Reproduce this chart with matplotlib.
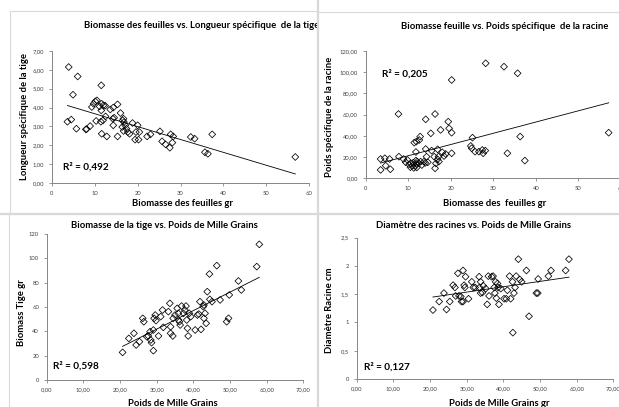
import numpy as np
import matplotlib
matplotlib.use('Agg')
import matplotlib.pyplot as plt
from matplotlib.ticker import FuncFormatter, MultipleLocator
from matplotlib.lines import Line2D

plt.rcParams['font.family'] = ['Lato', 'DejaVu Sans']

# --- données ---
# 1. Biomasse des feuilles vs. longueur spécifique de la tige
feuilles_a = [3.9, 6.0, 4.9, 11.5, 3.6, 4.5, 5.7, 7.9, 8.1, 8.9,
              9.3, 9.7, 10.1, 10.5, 10.3, 11.1, 11.5, 11.6, 12.0, 12.4,
              11.4, 11.9, 11.6, 12.5, 12.8, 13.6, 14.3, 15.3, 14.2, 14.5,
              14.3, 15.3, 16.0, 16.5, 16.7, 16.8, 16.4, 16.7, 17.1, 17.4,
              17.7, 18.1, 18.8, 19.6, 20.0, 19.4, 20.2, 20.4, 22.2, 23.0,
              25.2, 25.7, 26.5, 27.5, 27.7, 28.3, 28.1, 32.4, 33.3, 35.7,
              36.4, 37.4, 56.8]
longueur_tige = [6.15, 5.65, 4.68, 5.18, 3.25, 3.36, 2.88, 2.84, 2.86, 3.02,
                 4.03, 4.20, 4.33, 4.38, 3.29, 4.06, 3.85, 4.20, 4.12, 4.10,
                 3.25, 3.32, 2.61, 3.53, 2.47, 3.90, 4.00, 4.17, 3.41, 3.46,
                 3.06, 2.47, 3.71, 3.32, 3.41, 3.23, 2.97, 2.76, 3.06, 2.88,
                 2.70, 2.61, 3.18, 2.70, 3.06, 2.30, 2.30, 2.70, 2.47, 2.58,
                 2.74, 2.21, 2.05, 1.87, 2.58, 2.47, 2.14, 2.44, 2.35, 1.63,
                 1.55, 2.58, 1.38]

# 2. Biomasse feuille vs. poids spécifique de la racine
feuilles_b = [3.5, 3.5, 4.5, 4.7, 5.6, 5.8, 7.7, 7.8, 8.9, 9.4,
              9.8, 10.2, 10.6, 11.0, 11.2, 11.6, 11.8, 11.9, 12.1, 11.4,
              11.8, 11.9, 12.6, 12.8, 12.4, 12.9, 13.7, 14.1, 14.1, 14.3,
              14.6, 15.3, 15.5, 16.3, 16.1, 16.3, 16.5, 16.9, 17.1, 16.9,
              17.2, 17.6, 18.0, 18.4, 18.8, 19.4, 19.6, 20.2, 20.2, 20.2,
              25.1, 24.7, 24.9, 25.7, 26.6, 27.4, 27.6, 28.1, 28.2, 32.5,
              33.3, 35.7, 36.3, 37.4, 57.1, 10.5, 11.3, 12.0, 13.2, 14.0]
poids_racine = [18.2, 7.9, 18.9, 11.9, 18.2, 8.5, 60.6, 20.4, 18.2, 15.1,
                17.3, 13.2, 14.1, 11.9, 14.8, 11.6, 16.7, 13.5, 15.7, 33.6,
                24.8, 34.6, 36.1, 39.3, 14.1, 15.7, 15.7, 55.6, 27.6, 20.4,
                15.1, 42.4, 26.1, 60.6, 20.4, 9.4, 14.1, 17.9, 20.4, 27.3,
                15.7, 45.6, 24.5, 21.0, 22.9, 53.4, 47.1, 92.7, 43.0, 23.6,
                38.3, 30.5, 28.3, 25.1, 25.1, 26.7, 23.6, 26.1, 108.4, 105.2,
                23.6, 99.0, 39.3, 16.7, 43.0, 10.5, 9.8, 10.2, 12.5, 14.5]

# 3. Biomasse de la tige vs. poids de mille grains
pmg_a = [20.7, 22.4, 23.8, 24.4, 25.3, 26.2, 26.5, 27.3, 27.7, 28.2,
         28.4, 28.6, 29.1, 29.3, 29.6, 29.8, 29.1, 30.5, 31.1, 31.6,
         31.8, 33.2, 33.6, 33.8, 33.8, 34.4, 34.5, 35.0, 35.6, 35.9,
         36.0, 36.2, 36.4, 36.8, 37.3, 37.7, 38.0, 38.2, 38.4, 38.6,
         38.9, 39.3, 40.5, 41.1, 41.5, 41.8, 42.1, 42.7, 42.9, 42.9,
         43.2, 43.5, 43.8, 44.4, 44.5, 45.1, 46.4, 47.3, 49.1, 49.6,
         49.8, 52.3, 53.1, 57.3, 58.0]
biomasse_tige = [22.7, 34.2, 38.4, 28.8, 31.5, 50.7, 47.9, 35.6, 36.2, 39.7,
                 32.9, 30.7, 41.1, 50.7, 53.4, 48.8, 24.1, 36.2, 52.1, 57.5,
                 43.3, 56.2, 63.0, 43.8, 38.4, 36.2, 50.7, 53.4, 58.9, 54.8,
                 49.3, 47.9, 45.2, 60.8, 54.8, 57.5, 60.8, 49.3, 42.5, 36.2,
                 54.8, 52.1, 41.1, 53.4, 54.2, 64.4, 41.6, 60.3, 50.7, 61.6,
                 54.8, 46.6, 72.6, 87.1, 66.3, 64.4, 94.0, 65.8, 47.9, 50.7,
                 69.9, 81.4, 74.0, 93.2, 111.5]

# 4. Diamètre des racines vs. poids de mille grains
pmg_b = [20.8, 22.5, 23.8, 24.5, 25.4, 26.3, 26.8, 27.0, 27.6, 27.9,
         28.4, 28.6, 29.0, 29.0, 29.3, 29.5, 29.7, 30.5, 31.4, 31.8,
         32.3, 33.4, 33.5, 33.8, 33.8, 34.3, 34.5, 35.2, 35.6, 35.9,
         36.1, 36.8, 37.2, 37.5, 37.7, 37.9, 38.1, 38.4, 38.6, 38.8,
         39.3, 40.2, 40.8, 41.1, 41.7, 42.0, 42.5, 42.6, 42.9, 43.2,
         43.5, 44.1, 44.5, 45.0, 46.3, 47.0, 49.0, 49.4, 49.5, 52.3,
         53.0, 57.0, 57.9]
diametre_racine = [1.22, 1.37, 1.52, 1.23, 1.37, 1.66, 1.62, 1.47, 1.87, 1.47,
                   1.46, 1.37, 1.37, 1.92, 1.66, 1.62, 1.81, 1.42, 1.72, 1.62,
                   1.62, 1.81, 1.62, 1.72, 1.52, 1.53, 1.65, 1.60, 1.32, 1.82,
                   1.47, 1.81, 1.82, 1.62, 1.52, 1.72, 1.43, 1.69, 1.62, 1.32,
                   1.60, 1.42, 1.42, 1.57, 1.82, 1.42, 1.72, 0.82, 1.52, 1.62,
                   1.82, 2.12, 1.76, 1.72, 1.92, 1.11, 1.52, 1.52, 1.77, 1.82,
                   1.92, 1.92, 2.12]

W, H = 619, 407


def box(l, t, r, b):
    return [l / W, 1 - b / H, (r - l) / W, (b - t) / H]


def virgule(nd):
    def f(v, pos):
        return ('{:.%df}' % nd).format(v).replace('.', ',')
    return FuncFormatter(f)


def diam_fmt(v, pos):
    s = ('%g' % round(v, 2)).replace('.', ',')
    return s


fig = plt.figure(figsize=(W / 100, H / 100), dpi=100)

# cadres des 4 graphiques (coordonnées pixel)
panels = [(10, 10.5, 318, 214), (318, 11.5, 619, 214),
          (9, 214, 318, 407), (318, 214, 619, 407)]
pax = []
for (l, t, r, b) in panels:
    a = fig.add_axes(box(l, t, r, b), zorder=0)
    a.set_xlim(l, r)
    a.set_ylim(b, t)
    a.axis('off')
    pax.append(a)


def ptxt(a, x, y, s, **kw):
    kw.setdefault('fontsize', 6.8)
    kw.setdefault('fontweight', 'bold')
    kw.setdefault('ha', 'center')
    kw.setdefault('va', 'center')
    a.text(x, y, s, clip_on=True, **kw)


def scatter_axes(rect, x, y, xlim, ylim, xstep, ystep, xfmt, yfmt):
    ax = fig.add_axes(box(*rect), zorder=2)
    ax.patch.set_alpha(0)
    ax.scatter(x, y, marker='D', s=12, facecolors='none',
               edgecolors='black', linewidths=0.55, zorder=3)
    k, c = np.polyfit(x, y, 1)
    xs = np.array([min(x), max(x)])
    ax.plot(xs, k * xs + c, color='black', lw=0.6, zorder=2)
    ax.set_xlim(*xlim)
    ax.set_ylim(*ylim)
    ax.xaxis.set_major_locator(MultipleLocator(xstep))
    ax.yaxis.set_major_locator(MultipleLocator(ystep))
    ax.xaxis.set_major_formatter(xfmt)
    ax.yaxis.set_major_formatter(yfmt)
    for s in ['top', 'right']:
        ax.spines[s].set_visible(False)
    for s in ['left', 'bottom']:
        ax.spines[s].set_color('#868686')
        ax.spines[s].set_linewidth(0.7)
    ax.tick_params(direction='out', length=2.5, width=0.6, color='#868686',
                   labelsize=4.2, labelcolor='#404040', pad=3)
    return ax


# 1
scatter_axes((52, 51, 309, 183), feuilles_a, longueur_tige, (0, 60), (0, 7),
             10, 1, FuncFormatter(lambda v, p: '%d' % v), virgule(2))
ptxt(pax[0], 202, 25, 'Biomasse des feuilles vs. Longueur spécifique  de la tige')
ptxt(pax[0], 25, 117, 'Longueur spécifique de la tige', rotation=90)
ptxt(pax[0], 183, 204, 'Biomasse des feuilles gr')
ptxt(pax[0], 63, 167, 'R² = 0,492', ha='left', fontsize=7.2)

# 2
scatter_axes((365.7, 51, 621, 178.3), feuilles_b, poids_racine, (0, 60), (0, 120),
             10, 20, FuncFormatter(lambda v, p: '%d' % v), virgule(2))
ptxt(pax[1], 505, 26, 'Biomasse feuille vs. Poids spécifique  de la racine')
ptxt(pax[1], 330, 117, 'Poids spécifique de la racine', rotation=90)
ptxt(pax[1], 495, 203, 'Biomasse des  feuilles gr')
ptxt(pax[1], 382, 74, 'R² = 0,205', ha='left', fontsize=7.2)

# 3
scatter_axes((46.7, 234, 303.3, 380), pmg_a, biomasse_tige, (0, 70), (0, 120),
             10, 20, virgule(2), FuncFormatter(lambda v, p: '%d' % v))
ptxt(pax[2], 164, 225, 'Biomasse de la tige vs. Poids de Mille Grains')
ptxt(pax[2], 21, 313, 'Biomass Tige gr', rotation=90)
ptxt(pax[2], 173, 404, 'Poids de Mille Grains')
ptxt(pax[2], 53, 366, 'R² = 0,598', ha='left', fontsize=7.2)

# 4
scatter_axes((356.7, 237.7, 613.3, 379), pmg_b, diametre_racine, (0, 70), (0, 2.5),
             10, 0.5, virgule(2), FuncFormatter(diam_fmt))
ptxt(pax[3], 474, 225, 'Diamètre des racines vs. Poids de Mille Grains')
ptxt(pax[3], 330, 310, 'Diamètre Racine cm', rotation=90)
ptxt(pax[3], 499, 404, 'Poids de Mille Grains gr')
ptxt(pax[3], 364, 367, 'R² = 0,127', ha='left', fontsize=7.2)

# séparateurs gris
def trait(x0, y0, x1, y1, lw=1.0, c='#d9d9d9'):
    fig.add_artist(Line2D([x0 / W, x1 / W], [1 - y0 / H, 1 - y1 / H],
                          color=c, lw=lw, zorder=5))

trait(318, 0, 318, 407, lw=1.6)
trait(0, 214, 619, 214, lw=1.6)
trait(10, 10.5, 318, 10.5, lw=0.8)
trait(10, 10.5, 10, 214, lw=0.8)
trait(318, 11.5, 619, 11.5, lw=0.8)
trait(9, 214, 9, 407, lw=0.8)

fig.savefig('out.png', dpi=100)
